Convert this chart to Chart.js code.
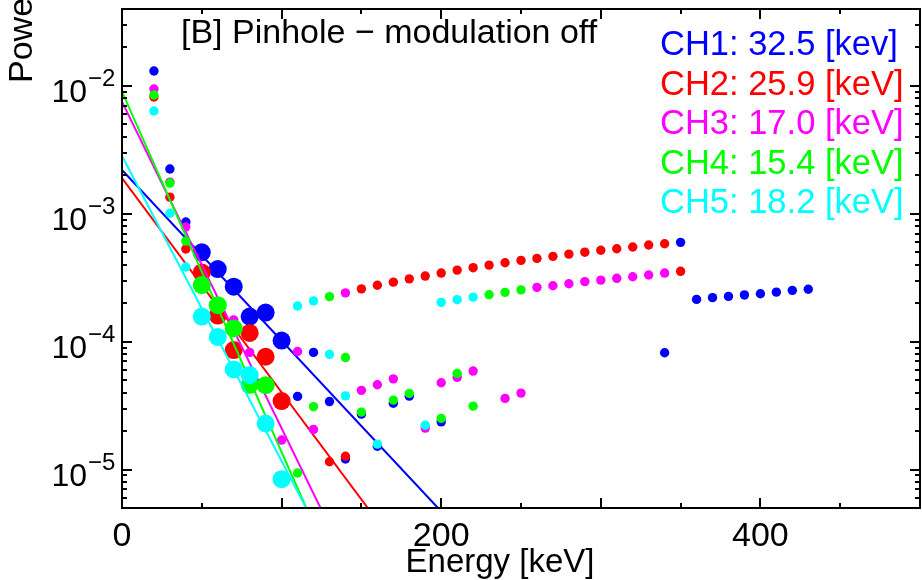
<!DOCTYPE html>
<html><head><meta charset="utf-8">
<script src="https://cdn.jsdelivr.net/npm/chart.js@4/dist/chart.umd.min.js"></script>
<style>html,body{margin:0;padding:0;background:#fff}#wrap{width:922px;height:580px;position:relative}</style>
</head><body><div id="wrap"><canvas id="c" width="922" height="580"></canvas></div>
<script>
// ---- data ----
const channelLabels = ['CH1: 32.5 [kev]','CH2: 25.9 [keV]','CH3: 17.0 [keV]','CH4: 15.4 [keV]','CH5: 18.2 [keV]'];
const channelColors = ['#0000ff','#ff0000','#ff00ff','#00ff00','#00ffff'];
const titleText = '[B] Pinhole \u2212 modulation off';
const xTitle = 'Energy [keV]';
const yTitle = 'Power';
const xTickLabels = ['0','200','400'];
const xTickValues = [0,200,400];
const yTickDecades = [-2,-3,-4,-5];

const ch1SmallX = [20,30,40,110,120,130,140,150,160,170,180,200,340,350,360,370,380,390,400,410,420,430];
const ch1SmallY = [1.31e-2,2.24e-3,8.63e-4,3.73e-5,8.24e-5,3.40e-5,1.21e-5,2.71e-5,1.52e-5,3.30e-5,3.75e-5,2.36e-5,8.19e-5,5.98e-4,2.14e-4,2.21e-4,2.26e-4,2.32e-4,2.37e-4,2.44e-4,2.52e-4,2.57e-4];
const ch1BigX = [50,60,70,80,90,100];
const ch1BigY = [5.0e-4,3.70e-4,2.69e-4,1.57e-4,1.69e-4,1.02e-4];

const ch2SmallX = [20,30,40,130,140,150,160,170,180,190,200,210,220,230,240,250,260,270,280,290,300,310,320,330,340,350];
const ch2SmallY = [8.2e-3,1.35e-3,5.31e-4,1.15e-5,1.27e-5,2.59e-4,2.76e-4,2.92e-4,3.10e-4,3.26e-4,3.44e-4,3.63e-4,3.79e-4,3.97e-4,4.14e-4,4.32e-4,4.48e-4,4.65e-4,4.84e-4,5.01e-4,5.19e-4,5.33e-4,5.50e-4,5.70e-4,5.83e-4,3.55e-4];
const ch2BigX = [50,60,70,80,90,100];
const ch2BigY = [3.48e-4,1.60e-4,8.6e-5,1.17e-4,7.62e-5,3.43e-5];

const ch3SmallX = [20,30,40,70,80,100,110,120,140,150,160,170,190,200,210,220,240,250,260,270,280,290,300,310,320,330,340];
const ch3SmallY = [9.47e-3,1.77e-3,7.88e-4,1.48e-4,8.24e-5,1.70e-5,8.37e-5,2.06e-5,2.41e-4,4.16e-5,4.60e-5,5.12e-5,2.11e-5,4.77e-5,5.26e-5,5.89e-5,3.60e-5,3.96e-5,2.66e-4,2.74e-4,2.84e-4,2.95e-4,3.03e-4,3.13e-4,3.22e-4,3.32e-4,3.44e-4];
const ch3BigX = [];
const ch3BigY = [];

const ch4SmallX = [20,30,40,110,120,130,140,150,170,180,200,210,220,230,240,250];
const ch4SmallY = [8.5e-3,1.74e-3,6.12e-4,9.4e-6,3.10e-5,2.25e-4,7.51e-5,2.81e-5,3.49e-5,3.94e-5,2.51e-5,5.65e-5,3.13e-5,2.33e-4,2.43e-4,2.54e-4];
const ch4BigX = [50,60,70,80,90];
const ch4BigY = [2.77e-4,1.93e-4,1.27e-4,4.6e-5,4.57e-5];

const ch5SmallX = [20,30,40,110,120,130,140,160,190,200,210,220];
const ch5SmallY = [6.37e-3,1.01e-3,3.84e-4,1.90e-4,2.08e-4,7.96e-5,3.77e-5,1.58e-5,2.22e-5,2.03e-4,2.13e-4,2.23e-4];
const ch5BigX = [50,60,70,80,90,100];
const ch5BigY = [1.57e-4,1.09e-4,6.07e-5,5.48e-5,2.29e-5,8.4e-6];

// fitted exponential lines: value at E=0 and energy where they leave the plot bottom
const fitStartX = [0,0,0,0,0];
const fitStartY = [2.2e-3,1.9e-3,7.53e-3,9.03e-3,2.83e-3];
const fitEndX = [198,154,124.4,115.5,115.4];
const fitEndY = [5e-6,5e-6,5e-6,5e-6,5e-6];

const xMin = 0, xMax = 500, yMin = 5e-6, yMax = 0.04;

// ---- build datasets ----
const smallX = [ch1SmallX,ch2SmallX,ch3SmallX,ch4SmallX,ch5SmallX];
const smallY = [ch1SmallY,ch2SmallY,ch3SmallY,ch4SmallY,ch5SmallY];
const bigX = [ch1BigX,ch2BigX,ch3BigX,ch4BigX,ch5BigX];
const bigY = [ch1BigY,ch2BigY,ch3BigY,ch4BigY,ch5BigY];
const pairs = (xs, ys) => xs.map((v, i) => ({x: v, y: ys[i]}));

const datasets = [];
for (let i = 0; i < 5; i++) {
  const base = 100 - i * 10;
  datasets.push({label: channelLabels[i] + ' pts', data: pairs(smallX[i], smallY[i]),
    backgroundColor: channelColors[i], borderWidth: 0, pointRadius: 4.7, pointHoverRadius: 4.7, showLine: false, order: base});
  datasets.push({label: channelLabels[i] + ' fit pts', data: pairs(bigX[i], bigY[i]),
    backgroundColor: channelColors[i], borderWidth: 0, pointRadius: 9, pointHoverRadius: 9, showLine: false, order: base - 1});
  datasets.push({label: channelLabels[i] + ' fit', data: [{x: fitStartX[i], y: fitStartY[i]}, {x: fitEndX[i], y: fitEndY[i]}],
    borderColor: channelColors[i], backgroundColor: channelColors[i], borderWidth: 2, pointRadius: 0, showLine: true, order: base - 2});
}

const FONT = "'Liberation Sans', Arial, sans-serif";

const idlAxes = {
  id: 'idlAxes',
  afterDraw(chart) {
    const {ctx, chartArea: a} = chart;
    const xs = chart.scales.x, ys = chart.scales.y;
    ctx.save();
    ctx.strokeStyle = '#000';
    ctx.lineWidth = 2;
    ctx.strokeRect(a.left, a.top, a.right - a.left, a.bottom - a.top);
    ctx.beginPath();
    // x ticks (every 50, major every 100)
    for (let v = xMin; v <= xMax + 1e-9; v += 50) {
      const px = Math.round(xs.getPixelForValue(v));
      const len = (v % 100 === 0) ? 10 : 5;
      ctx.moveTo(px, a.bottom); ctx.lineTo(px, a.bottom - len);
      ctx.moveTo(px, a.top); ctx.lineTo(px, a.top + len);
    }
    // y ticks (log)
    for (let d = -6; d <= -1; d++) {
      for (let m = 1; m <= 9; m++) {
        const v = m * Math.pow(10, d);
        if (v < yMin * 0.999 || v > yMax * 1.001) continue;
        const py = Math.round(ys.getPixelForValue(v));
        const len = (m === 1) ? 10 : 5;
        ctx.moveTo(a.left, py); ctx.lineTo(a.left + len, py);
        ctx.moveTo(a.right, py); ctx.lineTo(a.right - len, py);
      }
    }
    ctx.stroke();

    ctx.fillStyle = '#000';
    // y tick labels 10^d
    yTickDecades.forEach(d => {
      const py = ys.getPixelForValue(Math.pow(10, d));
      ctx.font = '32px ' + FONT;
      ctx.textAlign = 'right'; ctx.textBaseline = 'alphabetic';
      ctx.fillText('10', 87, py + 16);
      ctx.font = '24px ' + FONT;
      ctx.textAlign = 'left';
      ctx.fillText('\u2212' + Math.abs(d), 88, py);
    });
    // x tick labels
    ctx.font = '34px ' + FONT;
    ctx.textAlign = 'center';
    xTickValues.forEach((v, i) => {
      ctx.fillText(xTickLabels[i], xs.getPixelForValue(v), 546);
    });
    // x title
    ctx.font = '33px ' + FONT;
    ctx.fillText(xTitle, 500, 572);
    // y title (rotated, runs off the top)
    ctx.save();
    ctx.translate(32, 83);
    ctx.rotate(-Math.PI / 2);
    ctx.font = '34px ' + FONT;
    ctx.textAlign = 'left';
    ctx.fillText(yTitle, 0, 0);
    ctx.restore();
    // title
    ctx.font = '34px ' + FONT;
    ctx.textAlign = 'left';
    ctx.fillText(titleText, 181, 43);
    // legend
    ctx.font = '34.5px ' + FONT;
    channelLabels.forEach((t, i) => {
      ctx.fillStyle = channelColors[i];
      ctx.fillText(t, 660, 55 + i * 39.6);
    });
    ctx.restore();
  }
};

new Chart(document.getElementById('c'), {
  type: 'scatter',
  data: {datasets},
  options: {
    responsive: false,
    animation: false,
    devicePixelRatio: 1,
    layout: {autoPadding: false, padding: {left: 122, top: 9, right: 2, bottom: 72}},
    plugins: {legend: {display: false}, tooltip: {enabled: false}, title: {display: false}},
    scales: {
      x: {type: 'linear', min: xMin, max: xMax, display: false},
      y: {type: 'logarithmic', min: yMin, max: yMax, display: false}
    }
  },
  plugins: [idlAxes]
});
</script>
</body></html>
